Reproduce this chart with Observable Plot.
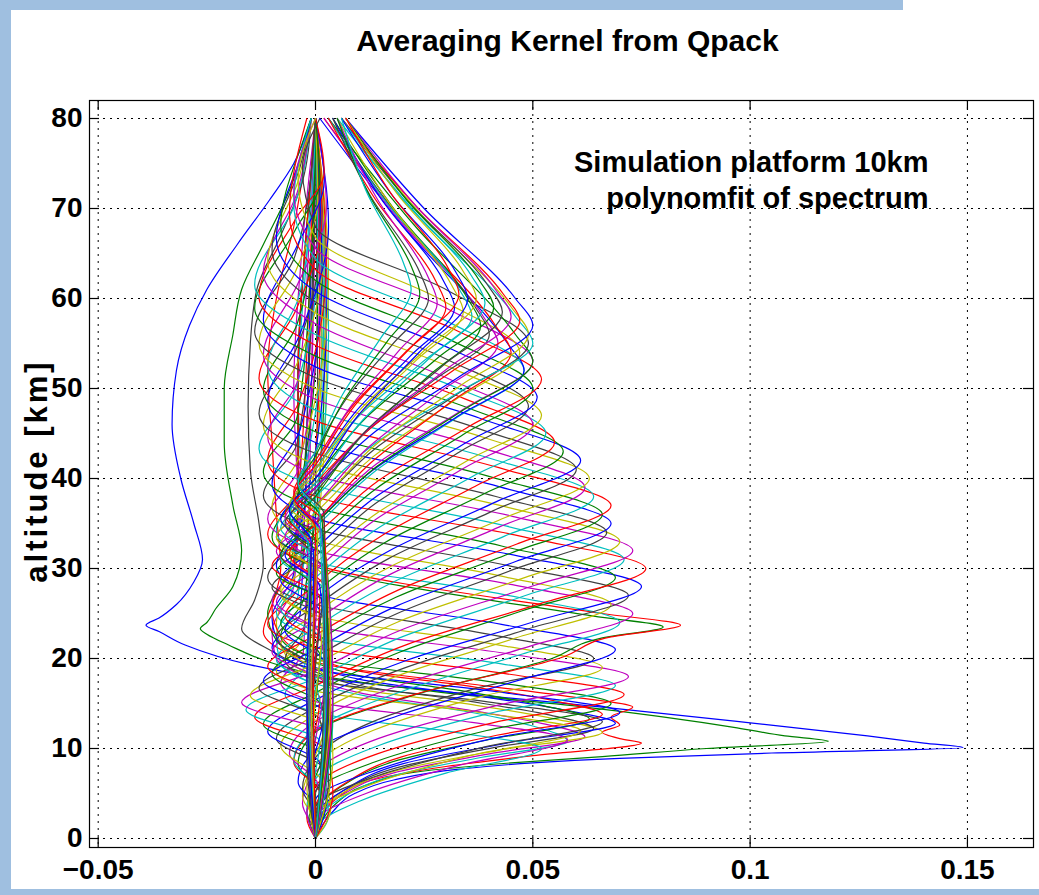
<!DOCTYPE html>
<html>
<head>
<meta charset="utf-8">
<script src="https://cdn.jsdelivr.net/npm/d3@7"></script>
<script src="https://cdn.jsdelivr.net/npm/@observablehq/plot@0.6"></script>
<style>
  body { margin: 0; background: #fff; }
  #wrap { position: relative; width: 1039px; height: 895px; overflow: hidden; background: #fff; }
  #wrap svg { position: absolute; left: 0; top: 0; }
  .band { position: absolute; background: #9fbfe0; }
</style>
</head>
<body>
<div id="wrap"></div>
<script>
// Axis ticks
const xTicks = [-0.05, 0, 0.05, 0.1, 0.15];
const yTicks = [0, 10, 20, 30, 40, 50, 60, 70, 80];

// Text
const titleText = "Averaging Kernel from Qpack";
const yLabel = "altitude [km]";
const noteLines = ["Simulation platform 10km", "polynomfit of spectrum"];

// MATLAB default line colour order
const lineColors = ["#0000ff", "#008000", "#ff0000", "#00bfbf", "#bf00bf", "#bfbf00", "#404040"];

// Averaging kernel rows, one per retrieval altitude: [altitude km, kernel value]
const kernels = [
  [[0,0],[1,0.001],[3,0.004],[5,0.009],[6.5,0.018],[7.7,0.033],[8.4,0.05],[8.9,0.07],[9.5,0.105],[10.1,0.149],[10.6,0.14],[11.4,0.127],[12.9,0.099],[14.6,0.066],[16.3,0.03],[17.8,0.002],[19.3,-0.015],[21.5,-0.03],[23,-0.036],[23.7,-0.039],[24.5,-0.036],[26,-0.032],[28.5,-0.028],[31,-0.026],[35,-0.028],[40,-0.031],[46,-0.033],[52,-0.032],[57,-0.029],[61,-0.025],[66,-0.018],[71,-0.0105],[75,-0.005],[80,-0.001]],
  [[0,0],[1.5,0.001],[4,0.005],[6,0.012],[7.5,0.025],[8.4,0.045],[9.1,0.066],[10,0.09],[10.8,0.118],[11.4,0.108],[12.3,0.097],[14.6,0.062],[16.3,0.028],[18,0.002],[19.5,-0.01],[21.5,-0.02],[22.7,-0.025],[23.3,-0.0265],[24,-0.025],[25.5,-0.023],[28,-0.019],[32,-0.017],[37,-0.019],[44,-0.021],[50,-0.021],[56,-0.019],[61,-0.017],[66,-0.012],[72,-0.006],[80,-0.001]],
  [[0,0],[2,0.001],[4.5,0.005],[6.5,0.013],[8,0.03],[9.2,0.05],[10.6,0.075],[11.1,0.07],[11.8,0.066],[12.6,0.07],[13.5,0.068],[14.6,0.073],[15.8,0.058],[17.5,0.03],[19,0.006],[21,-0.008],[23,-0.012],[26,-0.01],[30,-0.008],[36,-0.009],[44,-0.01],[52,-0.011],[60,-0.009],[68,-0.005],[80,-0.001]],
  [[0,0],[1.5,0],[4.5,0.006],[7,0.018],[9,0.038],[10.8,0.058],[12.5,0.05],[14,0.036],[15.8,0.012],[17.2,0],[19.5,-0.008],[22.5,-0.009],[27,-0.004],[35,-0.003],[50,-0.004],[65,-0.002],[80,0]],
  [[0,0],[1.8,0],[4.8,0.006],[7.3,0.018],[9.4,0.04],[11.3,0.062],[12.8,0.052],[14.3,0.035],[16.2,0.01],[17.6,0],[20,-0.009],[23,-0.01],[28,-0.005],[36,-0.004],[50,-0.005],[66,-0.003],[80,0]],
  [[0,0],[2,0],[5,0.006],[7.6,0.019],[9.8,0.042],[11.8,0.066],[13.3,0.055],[14.8,0.037],[16.6,0.01],[18,0],[20.5,-0.007],[24,-0.009],[29,-0.005],[38,-0.004],[52,-0.004],[68,-0.002],[80,0]],
  [[0,0],[2,0],[5.2,0.006],[7.9,0.019],[10.1,0.041],[12.2,0.064],[13.7,0.054],[15.2,0.036],[17,0.01],[18.5,0],[20.8,-0.01],[23.3,-0.017],[26.5,-0.014],[30.5,-0.012],[35,-0.013],[41,-0.015],[48,-0.0155],[55,-0.015],[61,-0.0135],[67,-0.008],[73,-0.003],[80,-0.001]],
  [[0,0],[2.3,0],[5.5,0.007],[8.3,0.02],[10.6,0.044],[12.8,0.069],[14.3,0.057],[15.8,0.038],[17.6,0.011],[19,0],[21.5,-0.008],[24.5,-0.01],[29.5,-0.005],[38,-0.004],[52,-0.004],[68,-0.002],[80,0]],
  [[0,0],[2.5,0],[5.8,0.006],[8.7,0.019],[11,0.04],[13.3,0.063],[14.8,0.052],[16.3,0.035],[18.1,0.01],[19.5,0],[22,-0.009],[25,-0.011],[30,-0.006],[38,-0.004],[52,-0.004],[68,-0.002],[80,0]],
  [[0,0],[2.8,0],[6.2,0.007],[9.1,0.02],[11.5,0.042],[13.8,0.066],[15.3,0.055],[16.8,0.037],[18.6,0.01],[20,0],[22.5,-0.008],[25.5,-0.01],[31,-0.005],[39,-0.004],[52,-0.004],[68,-0.002],[80,0]],
  [[0,0],[1,0],[4.2,0.0104],[7.3,0.0302],[10,0.052],[11.8,0.0322],[14,0],[16,-0.007],[19.2,-0.0025],[50,0.0015],[80,0]],
  [[0,0],[1.8,0],[5,0.0116],[8.2,0.0336],[11,0.058],[12.9,0.036],[15.2,0],[17.3,-0.008],[20.7,-0.0028],[48,-0.001],[80,0]],
  [[0,0],[2.6,0],[5.9,0.0122],[9.2,0.0354],[12,0.061],[14,0.0378],[16.4,0],[18.6,-0.009],[22.1,-0.0032],[52,0.0025],[80,0]],
  [[0,0],[3.4,0],[6.8,0.0132],[10.1,0.0383],[13,0.066],[15.1,0.0409],[17.6,0],[19.9,-0.007],[23.6,-0.0025],[50,0.0005],[80,0]],
  [[0,0],[4.2,0],[7.6,0.014],[11.1,0.0406],[14,0.07],[16.2,0.0434],[18.8,0],[21.2,-0.01],[25,-0.0035],[55,-0.0015],[80,0]],
  [[0,0],[5,0],[8.5,0.0136],[12,0.0394],[15,0.068],[17.3,0.0422],[20,0],[22.5,-0.008],[26.5,-0.0028],[52,0.002],[80,0]],
  [[0,0],[2.3,-0.002],[5.8,0],[9.4,0.0142],[12.9,0.0412],[16,0.071],[18.3,0.044],[21.2,0],[23.8,-0.011],[28,-0.0039],[55,0.001],[80,0]],
  [[0,0],[3.1,-0.002],[6.6,0],[10.2,0.0138],[13.9,0.04],[17,0.069],[19.4,0.0428],[22.4,0],[25.1,-0.009],[29.4,-0.0032],[56,0.003],[80,0]],
  [[0,0],[0.4,0],[3.9,-0.003],[7.4,0],[11.1,0.0144],[14.8,0.0418],[18,0.072],[20.5,0.0446],[23.6,0],[26.4,-0.01],[30.9,-0.0035],[58,-0.0005],[80,0]],
  [[0,0],[1.2,0.001],[4.7,-0.003],[8.2,0],[12,0.0132],[15.8,0.0383],[19,0.066],[21.6,0.0409],[24.8,0],[27.7,-0.008],[32.3,-0.0028],[56,0.0015],[80,0]],
  [[0,0],[2,0.001],[5.5,-0.003],[9,0],[12.9,0.0128],[16.7,0.0371],[20,0.064],[22.7,0.0397],[26,0],[29,-0.011],[33.8,-0.0039],[58,-0.001],[80,0]],
  [[0,0],[2.8,0.0015],[6.3,-0.004],[9.8,0],[13.7,0.0193],[17.6,0.0469],[21,0.069],[23.8,0.0428],[27.2,0],[30.3,-0.009],[35.3,-0.0032],[58,0.0025],[80,0]],
  [[0,0],[2.4,-0.0015],[4.8,0.0015],[8.3,-0.004],[11.8,0],[15.9,0.0224],[20,0.0544],[22.3,0.066],[23.5,0.08],[24.7,0.064],[30.2,0],[33.5,-0.01],[38.9,-0.0035],[60,0.0005],[80,0]],
  [[0,0],[2.5,-0.001],[5,0.001],[8.5,-0.005],[12,0],[16.1,0.0235],[20.2,0.0571],[22.4,0.068],[23.7,0.084],[25,0.066],[30.4,0],[33.8,-0.011],[39.1,-0.0039],[60,-0.0015],[80,0]],
  [[0,0],[2.6,0.003],[5.2,0.002],[8.7,-0.005],[12.2,0],[16.3,0.0196],[20.5,0.0476],[24,0.07],[27.1,0.0434],[30.8,0],[34.2,-0.009],[39.6,-0.0032],[60,0.002],[80,0]],
  [[0,0],[3,-0.002],[6,0.0005],[9.5,-0.006],[13,0],[17.2,0.0204],[21.4,0.0496],[25,0.073],[28.2,0.0453],[32,0],[35.5,-0.011],[41.1,-0.0039],[62,0.001],[80,0]],
  [[0,0],[3.4,0.0035],[6.8,0.001],[10.3,-0.008],[13.8,0],[18.1,0.019],[22.3,0.0462],[26,0.068],[29.2,0.0422],[33.2,0],[36.8,-0.01],[42.6,-0.0035],[62,0.003],[80,0]],
  [[0,0],[3.8,-0.001],[7.6,0.002],[11.1,-0.009],[14.6,0],[18.9,0.0202],[23.3,0.049],[27,0.072],[30.3,0.0446],[34.4,0],[38.1,-0.012],[44,-0.0042],[62,-0.0005],[80,0]],
  [[0,0],[4.2,0.0025],[8.4,0.001],[11.9,-0.011],[15.4,0],[19.8,0.021],[24.2,0.051],[28,0.075],[31.4,0.0465],[35.6,0],[39.4,-0.01],[45.5,-0.0035],[63,0.0015],[80,0]],
  [[0,0],[4.6,-0.0015],[9.2,0.0015],[12.7,-0.012],[16.2,0],[20.7,0.0193],[25.2,0.0469],[29,0.069],[32.5,0.0428],[36.8,0],[40.7,-0.012],[46.9,-0.0042],[64,-0.001],[80,0]],
  [[0,0],[5,0.004],[10,0.002],[13.5,-0.014],[17,0],[21.6,0.0213],[26.1,0.0517],[30,0.076],[33.6,0.0471],[38,0],[42,-0.011],[48.4,-0.0039],[64,0.0025],[80,0]],
  [[0,0],[5.4,-0.0005],[10.8,0.001],[14.3,-0.016],[17.8,0],[22.4,0.0199],[27,0.0483],[31,0.071],[34.7,0.044],[39.2,0],[43.3,-0.013],[49.9,-0.0046],[65,0.0005],[80,0]],
  [[0,0],[5.8,0.002],[11.6,0.0025],[15.1,-0.017],[18.6,0],[23.3,0.0204],[28,0.0496],[32,0.073],[35.8,0.0453],[40.4,0],[44.6,-0.011],[51.3,-0.0039],[66,-0.0015],[80,0]],
  [[0,0],[6.2,-0.002],[12.4,0.002],[15.9,-0.015],[19.4,0],[24.2,0.0196],[28.9,0.0476],[33,0.07],[36.9,0.0434],[41.6,0],[45.9,-0.012],[52.8,-0.0042],[66,0.002],[80,0]],
  [[0,0],[6.6,0.003],[13.2,0.001],[16.7,-0.013],[20.2,0],[25,0.0188],[29.9,0.0456],[34,0.067],[38,0.0415],[42.8,0],[47.2,-0.013],[54.2,-0.0046],[67,0.001],[80,0]],
  [[0,0],[7,-0.001],[14,0.002],[17.5,-0.012],[21,0],[25.9,0.019],[30.8,0.0462],[35,0.068],[39.1,0.0422],[44,0],[48.5,-0.011],[55.7,-0.0039],[68,0.003],[80,0]],
  [[0,0],[7.4,0.0035],[14.8,0.0015],[18.3,-0.01],[21.8,0],[26.8,0.0185],[31.7,0.0449],[36,0.066],[40.1,0.0409],[45.2,0],[49.8,-0.012],[57.2,-0.0042],[68,-0.0005],[80,0]],
  [[0,0],[7.8,-0.0015],[15.6,0.001],[19.1,-0.011],[22.6,0],[27.6,0.019],[32.7,0.0462],[37,0.068],[41.2,0.0422],[46.4,0],[51.1,-0.013],[58.6,-0.0046],[69,0.0015],[80,0]],
  [[0,0],[8.2,0.0025],[16.4,0.0005],[19.9,-0.009],[23.4,0],[28.5,0.0179],[33.6,0.0435],[38,0.064],[42.3,0.0397],[47.6,0],[52.4,-0.011],[60.1,-0.0039],[70,-0.001],[80,0]],
  [[0,0],[8.6,-0.0005],[17.2,0.002],[20.7,-0.01],[24.2,0],[29.4,0.0174],[34.6,0.0422],[39,0.062],[43.4,0.0384],[48.8,0],[53.7,-0.012],[61.5,-0.0042],[70,0.0025],[80,0]],
  [[0,0],[9,0.004],[18,0.002],[21.5,-0.008],[25,0],[30.3,0.0176],[35.5,0.0428],[40,0.063],[44.5,0.0391],[50,0],[55,-0.013],[63,-0.0046],[71,0.0005],[80,0]],
  [[0,0],[9.4,-0.002],[18.8,-0.0005],[22.3,-0.009],[25.8,0],[31.1,0.0168],[36.4,0.0408],[41,0.06],[45.6,0.0372],[51.2,0],[56.3,-0.014],[64.5,-0.0049],[72,-0.0015],[80,0]],
  [[0,0],[9.8,0.003],[19.6,0.002],[23.1,-0.007],[26.6,0],[32,0.0171],[37.4,0.0415],[42,0.061],[46.7,0.0378],[52.4,0],[57.6,-0.012],[65.9,-0.0042],[73,0.002],[80,0]],
  [[0,0],[10.2,-0.001],[20.4,0.001],[23.9,-0.008],[27.4,0],[32.9,0.016],[38.3,0.0388],[43,0.057],[47.8,0.0353],[53.6,0],[58.9,-0.014],[67.4,-0.0049],[73,0.001],[80,0]],
  [[0,0],[10.6,0.002],[21.2,0.0025],[24.7,-0.007],[28.2,0],[33.7,0.0154],[39.3,0.0374],[44,0.055],[48.9,0.0341],[54.8,0],[60.2,-0.013],[68.8,-0.0046],[74,0.002],[80,0]],
  [[0,0],[11,-0.0015],[22,0.0015],[25.5,-0.008],[29,0],[34.6,0.0148],[40.2,0.036],[45,0.053],[50,0.0329],[56,0],[61.5,-0.014],[70.3,-0.0049],[80,-0.001]],
  [[0,0],[11.4,0.0035],[22.8,0.001],[26.3,-0.009],[29.8,0],[35.5,0.014],[41.1,0.034],[46,0.05],[51,0.031],[57.2,0],[62.8,-0.012],[71.8,-0.0042],[80,-0.001]],
  [[0,0],[11.8,-0.0005],[23.6,0.0015],[27.1,-0.008],[30.6,0],[36.3,0.0146],[42.1,0.0354],[47,0.052],[52.1,0.0322],[58.4,0],[64.1,-0.011],[73.2,-0.0039],[80,-0.001]],
  [[0,0],[12.2,0.003],[24.4,0.002],[27.9,-0.01],[31.4,0],[37.2,0.0137],[43,0.0333],[48,0.049],[53.2,0.0304],[59.6,0],[65.4,-0.01],[74.7,-0.0035],[80,-0.001]],
  [[0,0],[12.6,-0.002],[25.2,0.001],[28.7,-0.008],[32.2,0],[38.1,0.0143],[44,0.0347],[49,0.051],[54.3,0.0316],[60.8,0],[66.7,-0.009],[76.1,-0.0032],[80,-0.001]],
  [[0,0],[13,0.0025],[26,0.0025],[29.5,-0.009],[33,0],[38.9,0.014],[44.9,0.034],[50,0.05],[55.4,0.031],[62,0],[68,-0.008],[77.6,-0.0028],[80,-0.001]],
  [[0,0],[13.4,-0.001],[26.8,0.001],[30.3,-0.01],[33.8,0],[39.8,0.0146],[45.8,0.0354],[51,0.052],[56.5,0.0322],[63.2,0],[69.3,-0.006],[80,-0.002]],
  [[0,0],[13.8,0.004],[27.6,0.002],[31.1,-0.008],[34.6,0],[40.7,0.0134],[46.8,0.0326],[52,0.048],[57.6,0.0298],[64.4,0],[70.6,-0.005],[80,-0.001]],
  [[0,0],[14.2,-0.0015],[28.4,0.0005],[31.9,-0.009],[35.4,0],[41.6,0.014],[47.7,0.034],[53,0.05],[58.7,0.031],[65.6,0],[71.9,-0.005],[80,0]],
  [[0,0],[14.6,0.002],[29.2,0.0015],[32.7,-0.008],[36.2,0],[42.4,0.0132],[48.7,0.032],[54,0.047],[59.8,0.0291],[66.8,0],[73.2,-0.004],[80,0]],
  [[0,0],[15,-0.0005],[30,0.002],[33.5,-0.009],[37,0],[43.3,0.0137],[49.6,0.0333],[55,0.049],[60.9,0.0304],[68,0],[74.5,-0.003],[80,0.001]],
  [[0,0],[14,0.003],[28,0.001],[31.5,-0.007],[35,0],[41,0.0134],[46.9,0.0326],[52,0.048],[55,0.0442],[67.5,0.0211],[80,0.001]],
  [[0,0],[14,-0.0015],[28,-0.001],[31.5,-0.008],[35,0],[41.3,0.014],[47.6,0.034],[53,0.05],[56,0.046],[68,0.023],[80,0.003]],
  [[0,0],[14,0.0035],[28,0.002],[31.5,-0.006],[35,0],[41.7,0.0126],[48.3,0.0306],[54,0.045],[57,0.0414],[68.5,0.0202],[80,0.002]],
  [[0,0],[15.5,-0.001],[31,0],[34.5,-0.008],[38,0],[44,0.014],[49.9,0.034],[55,0.05],[58,0.046],[69,0.024],[80,0.005]],
  [[0,0],[15,0.0025],[30,0.0015],[33.5,-0.007],[37,0],[43.3,0.0118],[49.6,0.0286],[55,0.042],[58,0.0386],[69,0.0188],[80,0.002]],
  [[0,0],[15,-0.002],[30,-0.0015],[33.5,-0.009],[37,0],[43.7,0.0137],[50.3,0.0333],[56,0.049],[59,0.0451],[69.5,0.024],[80,0.006]],
  [[0,0],[16,0.003],[32,0.002],[35.5,-0.006],[39,0],[45,0.0112],[50.9,0.0272],[56,0.04],[59,0.0368],[69.5,0.0184],[80,0.003]],
  [[0,0],[16,-0.0005],[32,-0.0005],[35.5,-0.008],[39,0],[45.3,0.014],[51.6,0.034],[57,0.05],[60,0.046],[70,0.025],[80,0.007]],
  [[0,0],[15.5,0.004],[31,0.0025],[34.5,-0.006],[38,0],[44.7,0.0106],[51.3,0.0258],[57,0.038],[60,0.035],[70,0.018],[80,0.004]],
  [[0,0],[16,-0.0015],[32.5,-0.001],[36,-0.007],[39.5,0],[45.8,0.0132],[52.1,0.032],[57.5,0.047],[60.5,0.0432],[70.3,0.0231],[80,0.006]],
  [[0,0],[17,0.002],[34,0.001],[37.5,-0.005],[41,0],[47,0.0101],[52.9,0.0245],[58,0.036],[61,0.0331],[70.5,0.0166],[80,0.003]],
  [[0,0],[16,-0.001],[32,0.0005],[35.5,-0.007],[39,0],[45.7,0.0126],[52.3,0.0306],[58,0.045],[61,0.0414],[70.5,0.0227],[80,0.007]],
  [[0,0],[17,0.0035],[33.5,0.002],[37,-0.006],[40.5,0],[46.8,0.0095],[53.1,0.0231],[58.5,0.034],[61.5,0.0313],[70.8,0.0167],[80,0.005]],
  [[0,0],[16,-0.002],[31.5,-0.001],[35,-0.007],[38.5,0],[45.5,0.012],[52.5,0.0292],[58.5,0.043],[61.5,0.0396],[70.8,0.0213],[80,0.006]],
  [[0,0],[17,0.0025],[34,0.0015],[37.5,-0.005],[41,0],[47.3,0.009],[53.6,0.0218],[59,0.032],[62,0.0294],[71,0.0152],[80,0.004]],
  [[0,0],[16.5,-0.0005],[33,0],[36.5,-0.006],[40,0],[46.7,0.0115],[53.3,0.0279],[59,0.041],[62,0.0377],[71,0.0209],[80,0.007]],
  [[0,0],[17.5,0.003],[35,0.002],[38.5,-0.005],[42,0],[48,0.0084],[53.9,0.0204],[59,0.03],[62,0.0276],[71,0.0138],[80,0.003]],
  [[0,0],[16,-0.0015],[32.5,-0.0015],[36,-0.006],[39.5,0],[46.5,0.0109],[53.5,0.0265],[59.5,0.039],[62.5,0.0359],[71.3,0.0195],[80,0.006]],
  [[0,0],[17,0.004],[34.5,0.001],[38,-0.005],[41.5,0],[47.8,0.0078],[54.1,0.019],[59.5,0.028],[62.5,0.0258],[71.3,0.0139],[80,0.005]],
  [[0,0],[17,-0.001],[34,0.0005],[37.5,-0.005],[41,0],[47.7,0.0104],[54.3,0.0252],[60,0.037],[63,0.034],[71.5,0.019],[80,0.007]],
  [[0,0],[18,0.002],[36,0.002],[39.5,-0.004],[43,0],[49,0.0073],[54.9,0.0177],[60,0.026],[63,0.0239],[71.5,0.0125],[80,0.004]],
  [[0,0],[16.5,-0.002],[33,-0.001],[36.5,-0.006],[40,0],[47,0.0098],[54,0.0238],[60,0.035],[63,0.0322],[71.5,0.0176],[80,0.006]],
  [[0,0],[17.5,0.003],[35.5,0.0015],[39,-0.004],[42.5,0],[48.8,0.0067],[55.1,0.0163],[60.5,0.024],[63.5,0.0221],[71.8,0.012],[80,0.005]],
  [[0,0],[17,-0.0005],[34.5,0],[38,-0.005],[41.5,0],[48.2,0.0092],[54.8,0.0224],[60.5,0.033],[63.5,0.0304],[71.8,0.0172],[80,0.007]],
  [[0,0],[18,0.0025],[36,0.001],[39.5,-0.004],[43,0],[49.3,0.0062],[55.6,0.015],[61,0.022],[64,0.0202],[72,0.0116],[80,0.006]]
];

// Long table for the line mark: one row per (kernel, altitude) sample
const rows = kernels.flatMap((pts, k) => pts.map(([alt, value]) => ({k, alt, value})));

const W = 1039, H = 895;
const mL = 89, mR = 6, mT = 100, mB = 48;
const frameW = W - mL - mR, frameH = H - mT - mB;
const tickLen = 10;
const font = "'Liberation Sans', Arial, Helvetica, sans-serif";
const fmtX = d => d === 0 ? "0" : (d < 0 ? "\u2212" + String(-d) : String(d));

const chart = Plot.plot({
  width: W,
  height: H,
  marginLeft: mL,
  marginRight: mR,
  marginTop: mT,
  marginBottom: mB,
  x: {domain: [-0.052, 0.1652], axis: null},
  y: {domain: [-1, 82], axis: null},
  color: {type: "identity"},
  style: {fontFamily: font, background: "transparent", overflow: "visible"},
  marks: [
    // dotted grid
    Plot.ruleX(xTicks, {x: d => d, stroke: "#000", strokeWidth: 1, strokeDasharray: "2,5"}),
    Plot.ruleY(yTicks, {y: d => d, stroke: "#000", strokeWidth: 1, strokeDasharray: "2,5"}),
    // kernels
    Plot.line(rows, {
      x: "value", y: "alt", z: "k",
      stroke: d => lineColors[d.k % lineColors.length],
      strokeWidth: 1.2, curve: "monotone-y"
    }),
    // axes box and inward ticks on all sides
    Plot.frame({stroke: "#000", strokeWidth: 1.2}),
    Plot.ruleX(xTicks, {x: d => d, insetTop: frameH - tickLen, stroke: "#000", strokeWidth: 1.2}),
    Plot.ruleX(xTicks, {x: d => d, insetBottom: frameH - tickLen, stroke: "#000", strokeWidth: 1.2}),
    Plot.ruleY(yTicks, {y: d => d, insetRight: frameW - tickLen, stroke: "#000", strokeWidth: 1.2}),
    Plot.ruleY(yTicks, {y: d => d, insetLeft: frameW - tickLen, stroke: "#000", strokeWidth: 1.2}),
    // tick labels
    Plot.text(xTicks, {x: d => d, frameAnchor: "bottom", dy: 31, lineAnchor: "bottom",
      text: fmtX, fontSize: 28, fontWeight: "bold", fill: "#000"}),
    Plot.text(yTicks, {y: d => d, frameAnchor: "left", dx: -7, textAnchor: "end",
      text: d => String(d), fontSize: 28, fontWeight: "bold", fill: "#000"}),
    // axis label
    Plot.text([yLabel], {frameAnchor: "left", dx: -52, dy: -3, rotate: -90, textAnchor: "middle",
      text: d => d, fontSize: 31, fontWeight: "bold", fill: "#000", className: "ylab"}),
    // title
    Plot.text([titleText], {frameAnchor: "top", dx: 6, dy: -50, lineAnchor: "bottom", text: d => d,
      fontSize: 30, fontWeight: "bold", fill: "#000"}),
    // annotation
    Plot.text([noteLines[0]], {frameAnchor: "top-right", dx: -105, dy: 71, textAnchor: "end", lineAnchor: "bottom",
      text: d => d, fontSize: 29, fontWeight: "bold", fill: "#000"}),
    Plot.text([noteLines[1]], {frameAnchor: "top-right", dx: -105, dy: 107, textAnchor: "end", lineAnchor: "bottom",
      text: d => d, fontSize: 29, fontWeight: "bold", fill: "#000"})
  ]
});

// wider letter spacing on the rotated axis label
chart.querySelectorAll(".ylab text").forEach(t => t.setAttribute("letter-spacing", "3"));

const wrap = document.getElementById("wrap");
wrap.appendChild(chart);

// window frame strips
[
  {left: 0, top: 0, width: 903, height: 10},
  {left: 0, top: 0, width: 11, height: 895},
  {left: 0, top: 889, width: 1039, height: 6}
].forEach(b => {
  const el = document.createElement("div");
  el.className = "band";
  Object.assign(el.style, {left: b.left + "px", top: b.top + "px", width: b.width + "px", height: b.height + "px"});
  wrap.appendChild(el);
});
</script>
</body>
</html>
